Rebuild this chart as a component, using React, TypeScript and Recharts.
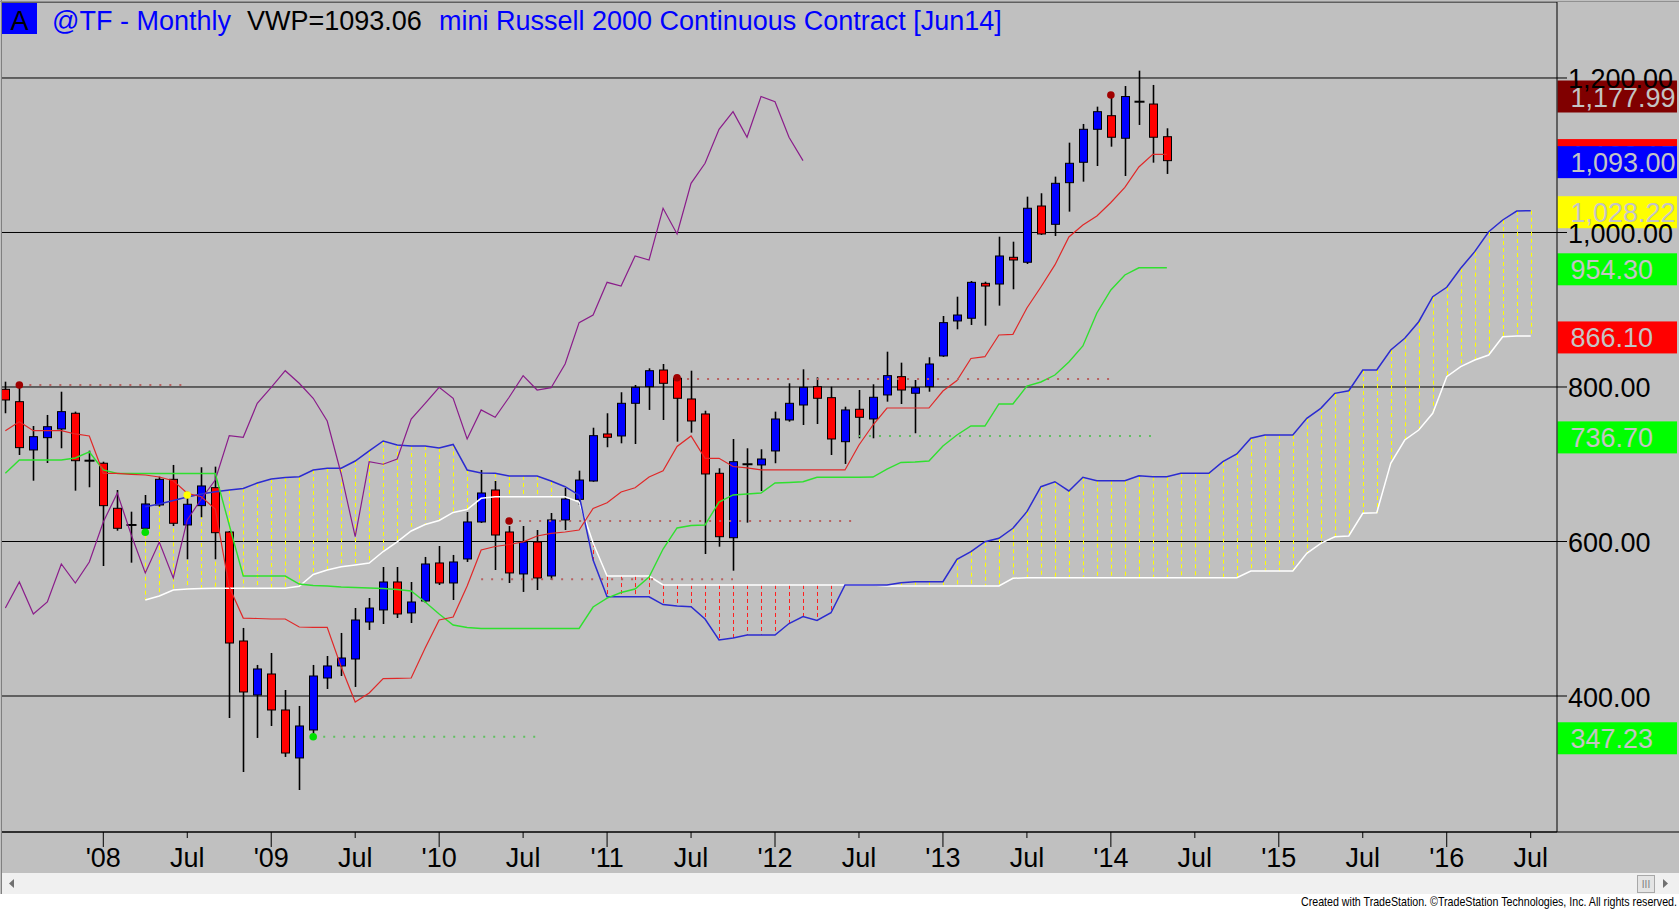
import React from 'react'
import { ComposedChart, Bar, Line, XAxis, YAxis, CartesianGrid, ReferenceLine, Scatter } from 'recharts'

// month index: 0 = Jan 2008; candles run Jun 2007 (-7) .. May 2014 (76), cloud runs to Jul 2016 (102)
const FIRST_MONTH = -7
const CLOUD_START = 3
const LAST_MONTH = 102
const CHIKOU_SHIFT = 26

const opens = [
  797.0, 781.0, 718.5, 734.4, 745.7, 766.0, 704.6,
  701.3, 643.0, 621.4, 617.1, 647.3, 680.5, 621.4, 646.4, 669.7, 612.3, 471.2, 401.3,
  428.5, 381.9, 319.8, 356.0, 423.3, 438.9, 447.9, 495.8, 511.4, 547.6, 507.5, 523.0,
  572.2, 546.3, 577.4, 625.3, 666.7, 612.3, 558.0, 599.4, 555.4, 627.9, 654.6, 678.3,
  739.2, 736.6, 778.9, 800.4, 822.0, 811.3, 784.5, 765.1, 688.3, 604.9, 700.0, 699.1,
  717.2, 757.3, 776.7, 800.4, 786.2, 729.2, 771.2, 758.6, 789.7, 813.4, 791.9, 800.4,
  840.2, 885.5, 889.0, 934.2, 933.3, 967.9, 961.5, 1034.3, 1010.6, 1064.5, 1090.9, 1133.6,
  1151.2, 1122.0, 1169.3, 1166.3, 1124.0,
]
const highs = [
  806.9, 805.2, 749.5, 763.8, 793.9, 768.1, 717.6,
  703.3, 666.7, 638.6, 660.2, 683.9, 699.1, 664.5, 696.1, 696.9, 613.6, 488.1, 440.2,
  455.7, 407.8, 387.1, 440.2, 451.8, 481.6, 513.9, 526.9, 567.0, 567.0, 547.6, 580.0,
  594.2, 582.6, 638.2, 692.6, 678.3, 620.0, 620.1, 614.9, 636.9, 669.3, 691.7, 747.3,
  766.0, 793.2, 802.6, 824.2, 829.8, 814.3, 821.1, 769.3, 694.8, 732.7, 720.7, 719.4,
  768.1, 804.8, 822.9, 812.6, 800.4, 774.5, 796.1, 803.5, 845.7, 831.5, 809.1, 838.5,
  891.9, 916.9, 937.2, 936.3, 994.6, 988.1, 1046.4, 1050.8, 1072.3, 1116.3, 1140.5, 1162.9,
  1178.0, 1189.6, 1209.5, 1191.0, 1134.9,
]
const lows = [
  766.0, 712.0, 678.7, 701.6, 720.7, 665.8, 670.2,
  568.3, 614.0, 572.6, 609.7, 645.1, 620.1, 577.0, 631.4, 577.0, 371.5, 301.6, 345.7,
  361.2, 321.1, 278.3, 347.2, 409.1, 425.9, 411.7, 485.5, 493.2, 501.0, 494.5, 520.4,
  543.7, 524.3, 573.5, 624.0, 563.1, 546.3, 534.7, 537.2, 550.2, 614.9, 647.3, 677.4,
  722.0, 727.1, 726.2, 770.3, 757.3, 729.2, 740.9, 583.8, 593.3, 562.2, 624.4, 665.4,
  701.3, 755.1, 750.8, 752.1, 712.0, 700.4, 733.6, 733.6, 781.0, 778.0, 740.1, 793.9,
  839.0, 874.7, 880.3, 879.4, 905.3, 926.5, 959.2, 996.8, 995.5, 1027.0, 1065.8, 1086.1,
  1111.1, 1073.1, 1139.2, 1090.4, 1075.8,
]
const closes = [
  783.2, 721.5, 735.7, 748.6, 768.1, 704.6, 704.6,
  646.4, 617.1, 621.4, 648.6, 680.5, 623.6, 648.2, 671.9, 611.4, 468.6, 405.2, 435.0,
  381.9, 326.2, 361.2, 425.9, 438.9, 449.2, 498.4, 513.9, 547.6, 506.2, 521.7, 570.9,
  546.3, 573.5, 625.3, 662.8, 608.4, 559.3, 599.4, 552.8, 627.9, 655.0, 679.6, 737.0,
  734.9, 778.9, 799.6, 821.1, 804.8, 785.4, 756.0, 687.4, 606.2, 703.3, 700.0, 706.8,
  758.6, 778.9, 799.6, 785.4, 732.7, 770.3, 760.8, 786.7, 814.7, 796.1, 799.1, 829.8,
  883.3, 893.2, 935.5, 930.7, 969.6, 964.4, 1031.4, 998.1, 1063.7, 1089.6, 1133.6, 1156.4,
  1123.3, 1176.0, 1169.3, 1123.3, 1093.0,
]

// conversion line (red) and base line (green), same months as the candles
const tenkan = [
  743.4, 755.1, 743.4, 743.4, 743.4, 739.2, 736.6,
  688.3, 688.3, 687.0, 686.1, 683.5, 678.7, 662.4, 658.0, 642.1, 541.1, 500.9, 500.3,
  499.7, 499.7, 489.3, 488.9, 488.9, 437.5, 392.2, 403.9, 422.6, 422.9, 423.3, 462.1,
  498.4, 502.3, 542.4, 589.0, 593.5, 596.1, 599.6, 607.1, 610.4, 612.3, 614.9, 642.7,
  650.2, 664.1, 669.6, 683.5, 691.5, 723.0, 736.6, 707.7, 707.7, 697.1, 695.2, 692.6,
  692.6, 692.6, 692.6, 692.6, 692.6, 692.6, 724.9, 750.8, 772.8, 772.8, 772.8, 772.8,
  794.8, 808.4, 836.9, 839.2, 867.3, 868.2, 902.3, 929.5, 958.0, 994.2, 1009.7, 1021.3,
  1038.8, 1058.3, 1084.8, 1101.2, 1101.2,
]
const kijun = [
  688.3, 705.5, 705.5, 705.5, 705.5, 708.1, 715.9,
  692.6, 688.0, 688.0, 688.0, 688.0, 688.0, 688.0, 688.0, 688.0, 621.4, 555.3, 555.3,
  555.3, 555.3, 545.0, 543.1, 542.4, 541.1, 540.5, 539.8, 539.2, 537.9, 535.9, 521.7,
  506.2, 491.9, 488.7, 487.4, 487.4, 487.4, 487.4, 487.4, 487.4, 487.4, 487.4, 515.2,
  526.8, 534.0, 538.5, 554.0, 590.3, 617.5, 620.7, 621.4, 651.1, 660.2, 661.5, 662.8,
  675.7, 676.4, 677.4, 683.1, 683.1, 683.1, 683.1, 683.5, 693.8, 702.3, 702.9, 704.2,
  723.6, 737.9, 749.5, 749.5, 778.0, 778.0, 801.3, 806.5, 815.5, 832.4, 853.1, 895.8,
  925.6, 945.0, 954.3, 954.3, 954.3,
]

// leading spans, Apr 2008 .. Jul 2016
const senkouA = [
  645.1, 648.5, 653.1, 657.6, 661.5, 664.5, 666.7, 668.6, 675.7,
  680.9, 682.8, 683.9, 692.6, 694.8, 694.8, 704.2, 717.2, 730.1, 725.0, 723.6, 723.6,
  721.0, 725.6, 692.6, 688.7, 688.3, 684.8, 684.8, 684.8, 678.3, 670.9, 660.0, 576.0,
  528.5, 528.5, 528.5, 528.5, 518.4, 516.5, 515.6, 499.7, 472.5, 475.1, 479.0, 479.0,
  479.0, 493.8, 502.9, 497.7, 507.8, 543.7, 543.7, 543.7, 543.7, 546.7, 548.0, 548.0,
  548.0, 577.0, 586.8, 599.7, 604.1, 617.1, 638.6, 670.9, 677.4, 665.4, 683.1, 678.7,
  678.7, 678.7, 685.2, 683.9, 683.9, 688.3, 688.3, 688.3, 703.3, 713.3, 733.6, 737.9,
  737.9, 737.9, 759.5, 772.4, 791.8, 795.2, 822.0, 822.0, 847.9, 863.0, 884.5, 916.9,
  929.1, 953.7, 975.2, 1001.0, 1016.2, 1027.8, 1028.2,
]
const senkouB = [
  524.3, 529.4, 537.2, 538.5, 539.2, 539.4, 539.4, 539.4, 539.4,
  539.4, 539.4, 542.1, 557.3, 563.1, 567.4, 569.6, 572.2, 587.0, 599.4, 613.6, 622.0,
  627.2, 637.6, 641.4, 655.9, 658.0, 658.0, 658.0, 658.0, 658.0, 658.0, 651.1, 598.0,
  555.3, 555.3, 555.3, 555.3, 543.7, 543.7, 543.7, 543.7, 543.7, 543.7, 543.7, 543.7,
  543.7, 543.7, 543.7, 543.7, 543.7, 543.7, 543.7, 543.7, 542.4, 542.4, 542.4, 542.4,
  542.4, 542.4, 542.4, 542.4, 542.4, 552.4, 553.2, 553.2, 553.2, 553.2, 553.2, 553.2,
  553.2, 553.2, 553.2, 553.2, 553.2, 553.2, 553.2, 553.2, 553.2, 553.2, 561.8, 561.8,
  561.8, 561.8, 584.7, 597.6, 606.2, 607.1, 636.5, 637.3, 701.2, 731.4, 744.3, 765.9,
  813.3, 826.3, 835.0, 841.4, 865.1, 866.1, 866.1,
]

// swing markers and their dotted levels
const highDotMonths = [-6, 29, 41, 72]
const highDotPrices = [802.6, 626.6, 812.0, 1178.0]
const lowDotMonths = [3, 15]
const lowDotPrices = [612.0, 347.2]
const midDotMonths = [6]
const midDotPrices = [660.2]

const highLevelFrom = [-6, 29, 41, 27]
const highLevelTo = [6, 54, 72, 45]
const highLevelPrices = [802.6, 626.6, 810.5, 551.0]
const lowLevelFrom = [15, 54]
const lowLevelTo = [31, 75]
const lowLevelPrices = [347.2, 736.7]

// last-value tags on the price scale
const tagPrices = [1177.99, 1102.15, 1093.0, 1028.22, 954.3, 866.1, 736.7, 347.23]
const tagColors = ['#800000', '#ff0000', '#0000ff', '#ffff00', '#00ff00', '#ff0000', '#00ff00', '#00ff00']

const xTicks = [0, 6, 12, 18, 24, 30, 36, 42, 48, 54, 60, 66, 72, 78, 84, 90, 96, 102]
const xTickLabels = ["'08", 'Jul', "'09", 'Jul', "'10", 'Jul', "'11", 'Jul', "'12", 'Jul', "'13", 'Jul', "'14", 'Jul', "'15", 'Jul', "'16", 'Jul']
const yTicks = [400, 600, 800, 1000, 1200]

const FONT = '"Liberation Sans", Arial, Helvetica, sans-serif'
const X_DOMAIN: [number, number] = [-7.239, 103.88]
const Y_DOMAIN: [number, number] = [223.95, 1298.38]

const rows: any[] = []
for (let m = FIRST_MONTH; m <= LAST_MONTH; m++) {
  const i = m - FIRST_MONTH
  const hasCandle = i < opens.length
  const k = m - CLOUD_START
  const a = k >= 0 ? senkouA[k] : null
  const b = k >= 0 ? senkouB[k] : null
  const lag = closes[i + CHIKOU_SHIFT]
  rows.push({
    m,
    o: hasCandle ? opens[i] : null,
    h: hasCandle ? highs[i] : null,
    l: hasCandle ? lows[i] : null,
    c: hasCandle ? closes[i] : null,
    range: hasCandle ? [lows[i], highs[i]] : null,
    tenkan: hasCandle ? tenkan[i] : null,
    kijun: hasCandle ? kijun[i] : null,
    chikou: lag !== undefined ? lag : null,
    a,
    b,
    cloud: a !== null && b !== null ? [Math.min(a, b), Math.max(a, b)] : null,
  })
}

const fmt = (v: number) => v.toLocaleString('en-US', { minimumFractionDigits: 2, maximumFractionDigits: 2 })

function Candle(props: any) {
  const { x, y, width, height, payload } = props
  if (!payload || payload.o == null) return null
  const top = Math.min(y, y + height)
  const h = Math.abs(height)
  const span = payload.h - payload.l
  const py = (v: number) => top + ((payload.h - v) / span) * h
  const cx = Math.round(x + width / 2) + 0.5
  const yo = py(payload.o)
  const yc = py(payload.c)
  const doji = Math.abs(payload.o - payload.c) < 0.5
  return (
    <g>
      <line x1={cx} x2={cx} y1={top} y2={top + h} stroke="#000" strokeWidth={1.6} />
      {doji ? (
        <line x1={cx - 5} x2={cx + 5} y1={yo} y2={yo} stroke="#000" strokeWidth={2} />
      ) : (
        <rect
          x={cx - 4}
          y={Math.min(yo, yc)}
          width={8}
          height={Math.max(Math.abs(yo - yc), 2)}
          fill={payload.c > payload.o ? '#0000ff' : '#ff0000'}
          stroke="#000"
          strokeWidth={1}
        />
      )}
    </g>
  )
}

function CloudHatch(props: any) {
  const { x, y, width, height, payload } = props
  if (!payload || payload.a == null) return null
  const top = Math.min(y, y + height)
  const h = Math.abs(height)
  if (h < 1) return null
  const cx = Math.round(x + width / 2) + 0.5
  return (
    <line
      x1={cx}
      x2={cx}
      y1={top}
      y2={top + h}
      stroke={payload.a >= payload.b ? '#ffff00' : '#ff2020'}
      strokeWidth={1}
      strokeDasharray="4 3"
    />
  )
}

function PriceTick(props: any) {
  const { x, y, payload } = props
  return (
    <text x={x} y={y + 10.5} fontFamily={FONT} fontSize={27} fill="#000">
      {fmt(payload.value)}
    </text>
  )
}

function MonthTick(props: any) {
  const { x, y, payload } = props
  const label = xTickLabels[xTicks.indexOf(payload.value)]
  if (label === undefined) return null
  const isYear = label.startsWith("'")
  return (
    <g>
      <line x1={x} x2={x} y1={y} y2={y + (isYear ? 15 : 6)} stroke="#000" strokeWidth={1} />
      <text x={x} y={y + 35} textAnchor="middle" fontFamily={FONT} fontSize={27} fill="#000">
        {label}
      </text>
    </g>
  )
}

function PriceTag(props: any) {
  const { viewBox, value, color } = props
  if (!viewBox) return null
  const vy = viewBox.y
  const x0 = viewBox.x + viewBox.width
  return (
    <g>
      <rect x={x0 + 0.5} y={vy - 14.5} width={119.5} height={32} fill={color} />
      <text x={x0 + 13.5} y={vy + 11.5} fontFamily={FONT} fontSize={27} fill="#c4c4c4">
        {fmt(value)}
      </text>
    </g>
  )
}

const Dot = (fill: string) => (p: any) => <circle cx={p.cx} cy={p.cy} r={3.8} fill={fill} />

export default function App() {
  const highDots = highDotMonths.map((m, i) => ({ m, p: highDotPrices[i] }))
  const lowDots = lowDotMonths.map((m, i) => ({ m, p: lowDotPrices[i] }))
  const midDots = midDotMonths.map((m, i) => ({ m, p: midDotPrices[i] }))

  return (
    <div style={{ position: 'absolute', left: 0, top: 0, width: 1679, height: 909, background: '#c0c0c0', overflow: 'hidden' }}>
      <ComposedChart
        width={1679}
        height={909}
        data={rows}
        margin={{ top: 2, right: 0, bottom: 0, left: 2 }}
      >
        <CartesianGrid xAxisId="c" vertical={false} stroke="#000" strokeWidth={1} />
        <XAxis
          xAxisId="c"
          type="number"
          dataKey="m"
          domain={X_DOMAIN}
          allowDataOverflow
          ticks={xTicks}
          interval={0}
          tick={<MonthTick />}
          tickLine={false}
          tickSize={0}
          tickMargin={0}
          height={77}
          axisLine={{ stroke: '#000' }}
        />
        <XAxis xAxisId="k" type="number" dataKey="m" domain={X_DOMAIN} allowDataOverflow hide />
        <YAxis
          orientation="right"
          width={122}
          domain={Y_DOMAIN}
          allowDataOverflow
          ticks={yTicks}
          interval={0}
          tick={<PriceTick />}
          tickSize={10}
          tickMargin={1}
          tickLine={{ stroke: '#000' }}
          axisLine={{ stroke: '#000' }}
        />

        <Bar xAxisId="k" dataKey="cloud" barSize={6} shape={(p: any) => <CloudHatch {...p} />} isAnimationActive={false} />
        <Line xAxisId="c" dataKey="b" stroke="#ffffff" strokeWidth={1.5} dot={false} activeDot={false} isAnimationActive={false} />
        <Line xAxisId="c" dataKey="a" stroke="#2b2bd0" strokeWidth={1.5} dot={false} activeDot={false} isAnimationActive={false} />
        <Line xAxisId="c" dataKey="chikou" stroke="#8a1c8a" strokeWidth={1.2} dot={false} activeDot={false} isAnimationActive={false} />
        <Line xAxisId="c" dataKey="kijun" stroke="#2fe02f" strokeWidth={1.4} dot={false} activeDot={false} isAnimationActive={false} />
        <Line xAxisId="c" dataKey="tenkan" stroke="#e02828" strokeWidth={1.2} dot={false} activeDot={false} isAnimationActive={false} />

        {highLevelPrices.map((p, i) => (
          <ReferenceLine
            key={'hl' + i}
            xAxisId="c"
            segment={[{ x: highLevelFrom[i], y: p }, { x: highLevelTo[i], y: p }]}
            stroke="#b86060"
            strokeWidth={2}
            strokeDasharray="2 8"
          />
        ))}
        {lowLevelPrices.map((p, i) => (
          <ReferenceLine
            key={'ll' + i}
            xAxisId="c"
            segment={[{ x: lowLevelFrom[i], y: p }, { x: lowLevelTo[i], y: p }]}
            stroke="#60c060"
            strokeWidth={2}
            strokeDasharray="2 8"
          />
        ))}

        <Bar xAxisId="c" dataKey="range" barSize={8} shape={(p: any) => <Candle {...p} />} isAnimationActive={false} />

        <Scatter xAxisId="c" data={highDots} dataKey="p" shape={Dot('#a00000')} isAnimationActive={false} />
        <Scatter xAxisId="c" data={lowDots} dataKey="p" shape={Dot('#00e000')} isAnimationActive={false} />
        <Scatter xAxisId="c" data={midDots} dataKey="p" shape={Dot('#ffff00')} isAnimationActive={false} />

        {tagPrices.map((p, i) => (
          <ReferenceLine
            key={'tag' + i}
            xAxisId="c"
            y={p}
            stroke="none"
            label={<PriceTag value={p} color={tagColors[i]} />}
          />
        ))}
      </ComposedChart>

      {/* frame, title, scrollbar and footer */}
      <svg width={1679} height={909} style={{ position: 'absolute', left: 0, top: 0, pointerEvents: 'none' }}>
        <line x1={1.5} x2={1.5} y1={0} y2={894} stroke="#808080" strokeWidth={1} />
        <line x1={0} x2={1679} y1={1.5} y2={1.5} stroke="#909090" strokeWidth={1} />
        <line x1={1557} x2={1679} y1={832} y2={832} stroke="#000" strokeWidth={1} />
        <rect x={2} y={3} width={35} height={31} fill="#0000ff" />
        <text x={19.5} y={29.5} textAnchor="middle" fontFamily={FONT} fontSize={27} fill="#000">A</text>
        <text y={29.5} fontFamily={FONT} fontSize={27}>
          <tspan x={52} fill="#0000ff">@TF - Monthly</tspan>
          <tspan x={247} fill="#000">VWP=1093.06</tspan>
          <tspan x={439} fill="#0000ff">mini Russell 2000 Continuous Contract [Jun14]</tspan>
        </text>
        <rect x={2} y={873} width={1677} height={21} fill="#f0f0f0" />
        <path d="M 9 883.5 L 14 879 L 14 888 Z" fill="#707070" />
        <rect x={1637.5} y={875.5} width={17} height={17} fill="#e4e4e4" stroke="#a8a8a8" />
        <text x={1646} y={888} textAnchor="middle" fontFamily={FONT} fontSize={10} fill="#808080">III</text>
        <path d="M 1668 883.5 L 1663 879 L 1663 888 Z" fill="#707070" />
        <rect x={0} y={894} width={1679} height={15} fill="#ffffff" />
        <text x={1301} y={906} fontFamily={FONT} fontSize={13} fill="#000" textLength={376} lengthAdjust="spacingAndGlyphs">
          Created with TradeStation. ©TradeStation Technologies, Inc. All rights reserved.
        </text>
      </svg>
    </div>
  )
}
